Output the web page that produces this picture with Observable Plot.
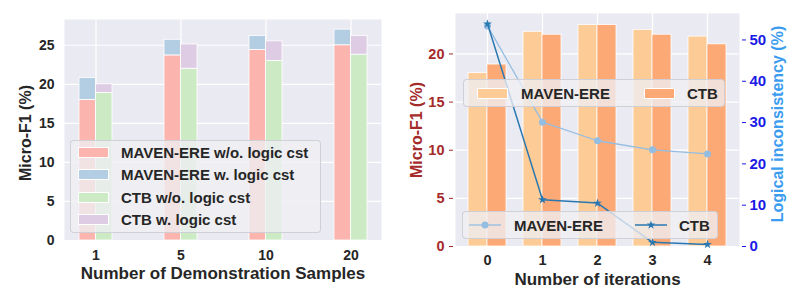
<!DOCTYPE html>
<html>
<head>
<meta charset="utf-8">
<script src="https://cdn.jsdelivr.net/npm/d3@7"></script>
<script src="https://cdn.jsdelivr.net/npm/@observablehq/plot@0.6"></script>
<style>
  html, body { margin: 0; padding: 0; background: white; }
  #root { position: relative; width: 797px; height: 300px; font-family: "Liberation Sans", Arial, sans-serif; font-weight: bold; color: #262626; }
  .panel { position: absolute; top: 0; }
  .legend { position: absolute; background: rgba(238,238,244,0.78); border: 1px solid rgba(205,205,212,0.9); border-radius: 4px; box-sizing: border-box; }
  .item { position: absolute; display: flex; align-items: center; white-space: nowrap; }
  .sw { display: inline-block; box-sizing: border-box; border: 1px solid white; }
</style>
</head>
<body>
<div id="root">
  <div id="left" class="panel" style="left:0"></div>
  <div id="right" class="panel" style="left:400px"></div>
</div>
<script>
// ---- Left panel data ----
const demoSamples = ["1", "5", "10", "20"];
const mavenWo = [18.0, 23.7, 24.4, 25.0];
const mavenW  = [20.8, 25.7, 26.2, 27.0];
const ctbWo   = [18.9, 22.0, 23.0, 23.8];
const ctbW    = [20.0, 25.1, 25.5, 26.2];
const leftSeries = ["MAVEN-ERE w/o. logic cst", "MAVEN-ERE w. logic cst", "CTB w/o. logic cst", "CTB w. logic cst"];
const leftColors = ["#fbb4ae", "#b3cde3", "#ccebc5", "#decbe4"];

// ---- Right panel data ----
const iterations = ["0", "1", "2", "3", "4"];
const mavenF1 = [18.0, 22.3, 23.0, 22.5, 21.8];
const ctbF1   = [18.9, 22.0, 23.0, 22.0, 21.0];
const mavenIncons = [53.4, 30.1, 25.6, 23.4, 22.4];
const ctbIncons   = [53.9, 11.3, 10.5, 1.0, 0.5];
const rightSeries = ["MAVEN-ERE", "CTB"];
const barColors = ["#fccb96", "#fca975"];
const lineColors = ["#94bde2", "#2a78b2"];
const f1Ticks = [0, 5, 10, 15, 20];
const inconsTicks = [0, 10, 20, 30, 40, 50];
const f1Max = 24.2, inconsMax = 56.4;

const FONT = "'Liberation Sans', Arial, sans-serif";
const textColor = "#262626";

// ---------------- LEFT ----------------
const leftRows = demoSamples.map((g, i) => ({g, mwo: mavenWo[i], mw: mavenW[i], cwo: ctbWo[i], cw: ctbW[i]}));
const halfL = 16.5;
const left = Plot.plot({
  width: 400, height: 300,
  marginLeft: 64, marginRight: 19, marginTop: 19, marginBottom: 60,
  style: {fontFamily: FONT, fontWeight: "bold", fontSize: "14px", color: textColor, background: "white"},
  x: {domain: demoSamples, paddingInner: 0.615, paddingOuter: 0.157, axis: null},
  y: {domain: [0, 28.3], axis: null},
  marks: [
    Plot.frame({fill: "#eaeaf2", stroke: null}),
    Plot.gridX({stroke: "white", strokeOpacity: 1, strokeWidth: 1.2}),
    Plot.gridY([0,5,10,15,20,25], {stroke: "white", strokeOpacity: 1, strokeWidth: 1.2}),
    Plot.barY(leftRows, {x: "g", y1: 0, y2: "mwo", fill: leftColors[0], stroke: "white", strokeWidth: 0.8, insetRight: halfL}),
    Plot.barY(leftRows, {x: "g", y1: "mwo", y2: "mw", fill: leftColors[1], stroke: "white", strokeWidth: 0.8, insetRight: halfL}),
    Plot.barY(leftRows, {x: "g", y1: 0, y2: "cwo", fill: leftColors[2], stroke: "white", strokeWidth: 0.8, insetLeft: halfL}),
    Plot.barY(leftRows, {x: "g", y1: "cwo", y2: "cw", fill: leftColors[3], stroke: "white", strokeWidth: 0.8, insetLeft: halfL}),
    Plot.axisX({tickSize: 0, tickPadding: 10, label: null, fontSize: 14, fill: textColor}),
    Plot.axisY([0,5,10,15,20,25], {tickSize: 0, tickPadding: 10, label: null, fontSize: 14, fill: textColor}),
    Plot.text(["Number of Demonstration Samples"], {frameAnchor: "bottom", dy: 33, fontSize: 17, fill: textColor, lineAnchor: "middle"}),
    Plot.text(["Micro-F1 (%)"], {frameAnchor: "left", dx: -39, dy: 3, rotate: -90, textAnchor: "middle", fontSize: 16, fill: textColor})
  ]
});
document.getElementById("left").appendChild(left);

// ---------------- RIGHT ----------------
const k = f1Max / inconsMax;
const barRows = iterations.map((it, i) => ({it, m: mavenF1[i], c: ctbF1[i]}));
const lineM = iterations.map((it, i) => ({it, v: mavenIncons[i] * k}));
const lineC = iterations.map((it, i) => ({it, v: ctbIncons[i] * k}));
const halfR = 19;
const brown = "#a52a2a", blue = "#1a1ae6", lblBlue = "#3c9cf0";
const right = Plot.plot({
  width: 397, height: 300,
  marginLeft: 55, marginRight: 58, marginTop: 13, marginBottom: 54,
  style: {fontFamily: FONT, fontWeight: "bold", fontSize: "14px", color: textColor, background: "white"},
  x: {domain: iterations, paddingInner: 0.313, paddingOuter: 0.2245, axis: null},
  y: {domain: [0, f1Max], axis: null},
  marks: [
    Plot.frame({fill: "#eaeaf2", stroke: null}),
    Plot.gridX({stroke: "white", strokeOpacity: 1, strokeWidth: 1.2}),
    Plot.gridY(f1Ticks, {stroke: "white", strokeOpacity: 1, strokeWidth: 1.2}),
    Plot.barY(barRows, {x: "it", y: "m", fill: barColors[0], stroke: "white", strokeWidth: 0.8, insetRight: halfR}),
    Plot.barY(barRows, {x: "it", y: "c", fill: barColors[1], stroke: "white", strokeWidth: 0.8, insetLeft: halfR}),
    Plot.line(lineM, {x: "it", y: "v", stroke: lineColors[0], strokeWidth: 1.3}),
    Plot.dot(lineM, {x: "it", y: "v", fill: lineColors[0], r: 3.5, symbol: "circle"}),
    Plot.line(lineC, {x: "it", y: "v", stroke: lineColors[1], strokeWidth: 1.5}),
    Plot.dot(lineC, {x: "it", y: "v", fill: lineColors[1], r: 2.8, symbol: "star"}),
    Plot.axisX({tickSize: 0, tickPadding: 8, label: null, fontSize: 14.5, fill: textColor}),
    Plot.axisY(f1Ticks, {anchor: "left", tickSize: 4, tickPadding: 5, label: null, fontSize: 14.5, fill: brown, stroke: brown, dx: -2}),
    Plot.axisY(inconsTicks.map(v => v * k), {anchor: "right", tickSize: 4, tickPadding: 4, label: null, fontSize: 15, fill: blue, stroke: blue, dx: 2, tickFormat: v => Math.round(v / k)}),
    Plot.text(["Number of iterations"], {frameAnchor: "bottom", dy: 33, fontSize: 17, fill: textColor, lineAnchor: "middle"}),
    Plot.text(["Micro-F1 (%)"], {frameAnchor: "left", dx: -39, rotate: -90, textAnchor: "middle", fontSize: 16, fill: brown}),
    Plot.text(["Logical inconsistency (%)"], {frameAnchor: "right", dx: 38, dy: -6, rotate: -90, textAnchor: "middle", fontSize: 16, fill: lblBlue})
  ]
});
document.getElementById("right").appendChild(right);

// ---------------- Legends (HTML overlays) ----------------
const root = document.getElementById("root");
function box(x, y, w, h) {
  const d = document.createElement("div");
  d.className = "legend";
  Object.assign(d.style, {left: x + "px", top: y + "px", width: w + "px", height: h + "px"});
  root.appendChild(d);
  return d;
}
function item(parent, x, y, swatchHTML, label) {
  const it = document.createElement("div");
  it.className = "item";
  Object.assign(it.style, {left: x + "px", top: y + "px", fontSize: "15px", height: "20px"});
  it.innerHTML = swatchHTML + `<span>${label}</span>`;
  parent.appendChild(it);
}
// left legend
const lg = box(70, 140, 251, 93);
leftSeries.forEach((s, i) => {
  item(lg, 7, 1.5 + i * 22.4, `<span class="sw" style="width:31px;height:11px;background:${leftColors[i]};margin-right:12px"></span>`, s);
});
// right bar legend
const bg = box(463, 79, 262, 28);
rightSeries.forEach((s, i) => {
  item(bg, i === 0 ? 13 : 180, 3, `<span class="sw" style="width:31px;height:11px;background:${barColors[i]};margin-right:${i === 0 ? 13 : 12}px"></span>`, s);
});
// right line legend
const ll = box(462, 211, 256, 28);
rightSeries.forEach((s, i) => {
  const marker = i === 0
    ? `<svg width="32" height="10" style="margin-right:13px"><line x1="0" y1="5" x2="32" y2="5" stroke="${lineColors[0]}" stroke-width="1.3"/><circle cx="16" cy="5" r="3.5" fill="${lineColors[0]}"/></svg>`
    : `<svg width="32" height="10" style="margin-right:12px"><line x1="0" y1="5" x2="32" y2="5" stroke="${lineColors[1]}" stroke-width="1.5"/><path transform="translate(16,5)" d="${d3.symbol(d3.symbolStar, 24)()}" fill="${lineColors[1]}"/></svg>`;
  item(ll, i === 0 ? 6 : 172, 3, marker, s);
});
</script>
</body>
</html>
